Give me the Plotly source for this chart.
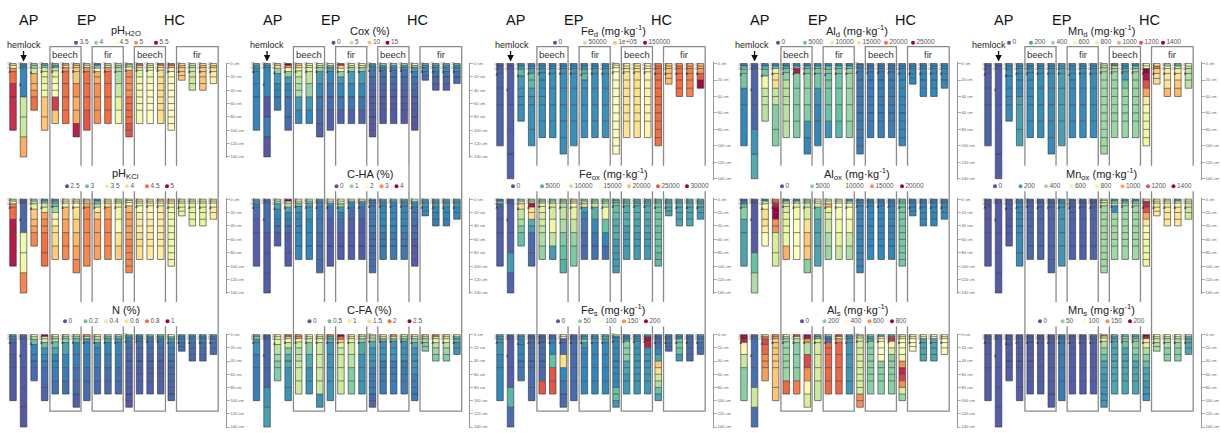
import plotly.graph_objects as go
import plotly.colors as pc

W, H = 1221, 433
FONT = "Liberation Sans, Arial, Helvetica, sans-serif"

# ---------------- data ----------------
site_names = ["AP", "EP", "HC"]
stand_names = ["beech", "fir", "beech", "fir"]
stand_first = [4, 8, 12, 16]
stand_last = [6, 10, 14, 19]
hemlock_profile = 1
top_horizon_names = ["Ol", "Of", "A"]

# horizon boundaries (cm) of the 20 soil profiles
hz_depths = [
    [0, 3, 7, 12, 30, 50, 100],
    [0, 3, 6, 50, 80, 110, 140],
    [0, 3, 7, 15, 30, 40, 50, 70],
    [0, 3, 6, 12, 20, 30, 40, 50, 80, 100],
    [0, 3, 6, 11, 20, 30, 40, 50, 70, 90],
    [0, 3, 6, 12, 30, 50, 70, 90],
    [0, 3, 6, 12, 30, 50, 70, 90, 110],
    [0, 3, 6, 12, 30, 50, 70, 100],
    [0, 3, 7, 12, 20, 30, 50, 70, 90],
    [0, 3, 6, 12, 30, 50, 70, 90],
    [0, 3, 6, 12, 30, 50, 70, 90],
    [0, 2, 5, 10, 20, 30, 40, 50, 60, 70, 80, 90, 100, 110],
    [0, 3, 6, 10, 20, 30, 40, 50, 60, 70, 90],
    [0, 3, 6, 10, 20, 30, 40, 50, 60, 70, 90],
    [0, 3, 6, 10, 20, 30, 40, 50, 60, 70, 90],
    [0, 3, 6, 12, 20, 30, 40, 50, 60, 70, 80, 90, 100],
    [0, 3, 6, 12, 18, 25],
    [0, 3, 6, 12, 20, 30, 40],
    [0, 3, 6, 12, 20, 30, 40],
    [0, 3, 6, 12, 20, 30],
]

ph_h2o_ticks = [3.5, 4, 4.5, 5, 5.5]
ph_h2o_labels = ["3.5", "4", "4.5", "5", "5.5"]
ph_h2o = [
    [4.8, 4.5, 5.0, 5.1, 5.35, 5.35],
    [3.7, 3.7, 3.7, 4.2, 4.2, 4.9],
    [4.0, 4.1, 4.2, 4.9, 4.9, 5.0, 5.1],
    [3.8, 4.0, 4.2, 4.3, 4.3, 4.4, 4.4, 4.8, 4.8],
    [3.9, 3.8, 4.2, 4.3, 4.4, 4.5, 4.5, 5.3, 4.8],
    [5.0, 4.5, 5.0, 5.1, 5.1, 5.1, 5.1],
    [4.9, 4.7, 4.8, 4.8, 5.0, 4.9, 4.9, 5.4],
    [4.1, 4.5, 5.0, 5.1, 5.1, 5.1, 5.2],
    [3.6, 4.0, 4.5, 4.9, 4.9, 5.0, 5.0, 5.0],
    [4.1, 4.3, 5.0, 5.1, 5.1, 5.1, 5.1],
    [4.2, 4.1, 4.1, 4.1, 4.2, 4.3, 4.4],
    [4.1, 4.2, 4.3, 5.0, 5.0, 5.0, 5.0, 5.1, 5.1, 5.1, 5.1, 5.2, 5.2],
    [5.2, 4.2, 4.3, 4.3, 4.4, 4.4, 4.4, 4.4, 4.4, 4.4],
    [4.2, 4.3, 4.4, 4.4, 4.4, 4.5, 4.5, 4.5, 4.5, 4.5],
    [5.2, 4.3, 4.6, 4.7, 4.7, 4.7, 4.7, 4.7, 4.7, 4.7],
    [5.2, 4.9, 4.6, 4.5, 4.5, 4.5, 4.5, 4.5, 4.5, 4.5, 4.5, 4.5],
    [4.7, 4.8, 4.8, 4.8, 4.8],
    [4.2, 4.2, 4.2, 4.2, 4.2, 4.2],
    [4.7, 4.8, 4.8, 4.8, 4.8, 4.8],
    [4.6, 4.8, 4.7, 4.6, 4.6],
]

ph_kcl_ticks = [2.5, 3, 3.5, 4, 4.5, 5]
ph_kcl_labels = ["2.5", "3", "3.5", "4", "4.5", "5"]
ph_kcl = [
    [3.3, 3.6, 4.4, 4.5, 4.9, 4.9],
    [2.6, 2.6, 2.6, 3.6, 3.6, 4.4],
    [3.2, 3.3, 3.5, 4.1, 4.2, 4.3, 4.4],
    [2.8, 3.1, 3.4, 3.5, 4.3, 4.4, 4.4, 4.5, 4.5],
    [2.8, 3.0, 3.0, 3.2, 3.6, 3.6, 4.0, 4.0, 4.1],
    [3.9, 3.5, 3.9, 4.2, 4.3, 4.4, 4.4],
    [3.9, 3.5, 3.8, 4.0, 4.1, 4.2, 4.3, 4.4],
    [3.3, 3.6, 4.3, 4.4, 4.4, 4.4, 4.4],
    [2.7, 3.0, 3.3, 3.9, 4.1, 4.3, 4.3, 4.3],
    [3.4, 3.5, 4.1, 4.3, 4.4, 4.4, 4.4],
    [3.3, 3.4, 3.5, 3.6, 3.7, 4.0, 4.1],
    [3.5, 3.6, 3.8, 4.2, 4.3, 4.3, 4.3, 4.3, 4.4, 4.4, 4.4, 4.4, 4.4],
    [4.0, 3.5, 3.6, 3.8, 3.9, 3.9, 3.9, 4.0, 4.0, 4.0],
    [3.9, 3.5, 3.6, 3.8, 3.8, 3.9, 3.9, 3.9, 3.9, 3.9],
    [4.2, 3.6, 3.8, 3.9, 3.9, 3.9, 3.9, 3.9, 3.9, 3.9],
    [4.1, 3.7, 3.6, 3.6, 3.6, 3.6, 3.6, 3.6, 3.6, 3.6, 3.6, 3.6],
    [3.5, 3.5, 3.5, 3.5, 3.5],
    [3.4, 3.5, 3.5, 3.5, 3.5, 3.5],
    [3.5, 3.5, 3.5, 3.5, 3.5, 3.5],
    [4.0, 3.6, 3.8, 3.9, 3.9],
]

n_ticks = [0, 0.2, 0.4, 0.6, 0.8, 1]
n_labels = ["0", "0.2", "0.4", "0.6", "0.8", "1"]
n_pct = [
    [0.12, 0.1, 0.05, 0.03, 0.02, 0.02],
    [0.08, 0.05, 0.03, 0.02, 0.02, 0.02],
    [0.45, 0.35, 0.2, 0.1, 0.08, 0.06, 0.05],
    [1.0, 0.5, 0.35, 0.2, 0.12, 0.1, 0.08, 0.05, 0.04],
    [0.5, 0.35, 0.3, 0.2, 0.15, 0.1, 0.1, 0.08, 0.06],
    [0.35, 0.3, 0.25, 0.15, 0.1, 0.08, 0.06],
    [0.35, 0.3, 0.2, 0.1, 0.08, 0.06, 0.05, 0.03],
    [0.75, 0.6, 0.12, 0.1, 0.08, 0.06, 0.05],
    [0.55, 0.35, 0.25, 0.12, 0.1, 0.08, 0.06, 0.05],
    [0.28, 0.22, 0.15, 0.1, 0.08, 0.06, 0.05],
    [0.3, 0.25, 0.12, 0.1, 0.08, 0.06, 0.05],
    [0.25, 0.15, 0.1, 0.06, 0.05, 0.04, 0.04, 0.03, 0.03, 0.03, 0.03, 0.02, 0.02],
    [0.12, 0.1, 0.08, 0.06, 0.05, 0.04, 0.04, 0.03, 0.03, 0.03],
    [0.2, 0.12, 0.1, 0.06, 0.05, 0.04, 0.04, 0.03, 0.03, 0.03],
    [0.18, 0.12, 0.1, 0.06, 0.05, 0.04, 0.04, 0.03, 0.03, 0.03],
    [0.5, 0.2, 0.12, 0.1, 0.08, 0.06, 0.05, 0.05, 0.04, 0.04, 0.04, 0.04],
    [0.12, 0.1, 0.08, 0.06, 0.05],
    [0.12, 0.1, 0.08, 0.06, 0.05, 0.04],
    [0.12, 0.1, 0.08, 0.06, 0.05, 0.04],
    [0.12, 0.1, 0.08, 0.06, 0.05],
]

cox_ticks = [0, 5, 10, 15]
cox_labels = ["0", "5", "10", "15"]
cox = [
    [2.5, 2.0, 1.6, 1.5, 1.5, 1.4],
    [2.0, 1.8, 1.5, 0.3, 1.2, 0.3],
    [10, 6.5, 4, 2, 1.5, 1.5, 1.2],
    [15, 11, 6.5, 4, 2, 1.5, 1.5, 1.0, 0.8],
    [10, 6.5, 6, 5.5, 5, 4.5, 4.5, 2, 1.5],
    [6.5, 6.5, 6, 5, 4, 2, 1.5],
    [6.5, 5, 4, 2, 1.5, 1, 0.8, 0.5],
    [8, 3, 2, 1.5, 1, 0.8, 0.5],
    [14, 9, 8, 4, 2, 1.5, 1, 0.5],
    [6.5, 5, 4, 2, 1.5, 1, 0.5],
    [8, 6, 4, 2, 1.5, 1, 0.5],
    [3, 2, 1.5, 1, 0.8, 0.6, 0.5, 0.4, 0.3, 0.3, 0.3, 0.2, 0.2],
    [4, 2, 1.5, 1, 0.8, 0.6, 0.5, 0.4, 0.3, 0.3],
    [4, 2, 1.5, 1, 0.8, 0.6, 0.5, 0.4, 0.3, 0.3],
    [4, 2, 1.5, 1, 0.8, 0.6, 0.5, 0.4, 0.3, 0.3],
    [8, 4, 2, 1.5, 1, 0.8, 0.6, 0.5, 0.4, 0.3, 0.3, 0.2],
    [2.5, 2, 1.5, 1, 0.8],
    [2.5, 2, 1.5, 1, 0.8, 0.5],
    [2.5, 2, 1.5, 1, 0.8, 0.5],
    [2.5, 2, 1.5, 1, 0.8],
]

cha_ticks = [0, 1, 2, 3, 4]
cha_labels = ["0", "1", "2", "3", "4"]
c_ha = [
    [0.6, 0.5, 0.3, 0.2, 0.1, 0.1],
    [0.3, 0.2, 0.2, 0.1, 0.1, 0.1],
    [1.5, 1.0, 0.6, 0.4, 0.3, 0.2, 0.1],
    [4, 2.2, 1.2, 0.6, 0.4, 0.3, 0.2, 0.1, 0.1],
    [2, 1.5, 0.8, 0.5, 0.4, 0.4, 0.4, 0.4, 0.4],
    [1.4, 1.0, 0.6, 0.5, 0.4, 0.4, 0.4],
    [0.6, 0.4, 0.4, 0.3, 0.3, 0.2, 0.2, 0.2],
    [2, 1.4, 0.4, 0.2, 0.1, 0.1, 0.1],
    [2, 1.4, 1.0, 0.5, 0.3, 0.2, 0.1, 0.1],
    [1.5, 0.6, 0.4, 0.2, 0.1, 0.1, 0.1],
    [1.6, 0.6, 0.4, 0.2, 0.1, 0.1, 0.1],
    [0.5, 0.4, 0.3, 0.3, 0.3, 0.3, 0.3, 0.2, 0.2, 0.2, 0.2, 0.2, 0.2],
    [0.6, 0.5, 0.4, 0.4, 0.4, 0.4, 0.4, 0.3, 0.3, 0.3],
    [0.8, 0.5, 0.4, 0.4, 0.4, 0.4, 0.4, 0.3, 0.3, 0.3],
    [0.6, 0.5, 0.4, 0.4, 0.4, 0.4, 0.4, 0.3, 0.3, 0.3],
    [2, 0.6, 0.4, 0.3, 0.3, 0.2, 0.2, 0.2, 0.1, 0.1, 0.1, 0.1],
    [0.6, 0.5, 0.5, 0.4, 0.4],
    [0.6, 0.5, 0.5, 0.4, 0.4, 0.3],
    [0.6, 0.5, 0.5, 0.4, 0.4, 0.3],
    [0.6, 0.5, 0.5, 0.4, 0.4],
]

cfa_ticks = [0, 0.5, 1, 1.5, 2, 2.5]
cfa_labels = ["0", "0.5", "1", "1.5", "2", "2.5"]
c_fa = [
    [0.4, 0.6, 0.3, 0.3, 0.2, 0.2],
    [0.1, 0.1, 0.1, 0.1, 0.3, 0.35],
    [1.3, 1.1, 1.0, 0.8, 0.7, 0.6, 0.6],
    [2.1, 1.4, 1.1, 0.9, 0.6, 0.4, 0.4, 0.3, 0.3],
    [1.9, 1.8, 1.1, 0.9, 0.8, 0.8, 0.9, 0.9, 0.9],
    [1.2, 1.1, 0.9, 0.6, 0.4, 0.3, 0.3],
    [1.1, 1.0, 1.0, 0.9, 0.9, 0.9, 0.9, 0.3],
    [2.0, 0.5, 0.4, 0.3, 0.3, 0.3, 0.3],
    [2.5, 2.0, 1.6, 1.0, 0.9, 0.9, 0.9, 0.9],
    [1.1, 1.0, 1.0, 0.9, 0.8, 0.6, 0.6],
    [1.6, 1.1, 0.6, 0.4, 0.3, 0.3, 0.3],
    [1.4, 1.1, 0.7, 0.4, 0.3, 0.3, 0.3, 0.2, 0.2, 0.2, 0.2, 0.1, 0.1],
    [1.1, 1.4, 0.5, 0.3, 0.3, 0.3, 0.2, 0.2, 0.2, 0.2],
    [1.9, 1.1, 0.5, 0.3, 0.3, 0.3, 0.2, 0.2, 0.2, 0.2],
    [1.0, 0.9, 0.5, 0.3, 0.3, 0.3, 0.2, 0.2, 0.2, 0.2],
    [1.4, 1.1, 0.6, 0.4, 0.3, 0.3, 0.3, 0.3, 0.2, 0.2, 0.2, 0.2],
    [1.6, 0.9, 0.7, 0.6, 0.6],
    [2.0, 1.4, 1.0, 0.8, 0.7, 0.6],
    [1.5, 1.1, 1.0, 0.8, 0.7, 0.6],
    [1.0, 0.5, 0.4, 0.3, 0.3],
]

fed_ticks = [0, 50000, 100000, 150000]
fed_labels = ["0", "50000", "1e+05", "150000"]
fe_d = [
    [5000, 5000, 6000, 6000, 6000, 6000],
    [4000, 4000, 4000, 5000, 5000, 5000],
    [15000, 20000, 28000, 20000, 18000, 17000, 17000],
    [15000, 18000, 20000, 30000, 28000, 20000, 18000, 17000, 17000],
    [15000, 17000, 17000, 17000, 17000, 17000, 17000, 17000, 17000],
    [15000, 17000, 17000, 17000, 17000, 17000, 17000],
    [15000, 17000, 17000, 17000, 17000, 17000, 17000, 17000],
    [15000, 17000, 17000, 17000, 17000, 17000, 17000],
    [15000, 17000, 25000, 28000, 18000, 17000, 17000, 17000],
    [15000, 17000, 17000, 17000, 17000, 17000, 17000],
    [15000, 17000, 17000, 17000, 17000, 17000, 17000],
    [70000, 72000, 75000, 75000, 75000, 75000, 75000, 75000, 75000, 75000, 75000, 75000, 75000],
    [80000, 85000, 88000, 88000, 88000, 88000, 88000, 88000, 88000, 88000],
    [85000, 88000, 90000, 90000, 90000, 90000, 90000, 90000, 90000, 90000],
    [75000, 78000, 80000, 80000, 80000, 80000, 80000, 80000, 80000, 80000],
    [115000, 120000, 120000, 120000, 120000, 120000, 120000, 120000, 120000, 120000, 120000, 120000],
    [95000, 100000, 100000, 100000, 100000],
    [110000, 118000, 120000, 120000, 120000, 120000],
    [105000, 110000, 115000, 115000, 115000, 115000],
    [100000, 105000, 110000, 125000, 148000],
]

feox_ticks = [0, 5000, 10000, 15000, 20000, 25000, 30000]
feox_labels = ["0", "5000", "10000", "15000", "20000", "25000", "30000"]
fe_ox = [
    [2000, 6000, 1500, 1000, 1000, 1000],
    [1000, 1000, 1000, 1000, 4000, 1000],
    [8000, 10000, 18000, 10000, 9000, 7000, 6000],
    [8000, 10000, 29000, 18000, 18000, 5000, 4000, 1500, 1500],
    [7000, 9000, 12000, 12000, 11000, 11000, 10000, 9000, 8000],
    [7000, 10000, 11000, 11000, 13000, 10000, 4000],
    [7000, 9000, 10000, 10000, 9000, 7000, 6000, 5000],
    [10000, 18000, 14000, 12000, 10000, 8000, 7000],
    [7000, 9000, 18000, 4000, 3000, 2000, 1500, 1500],
    [7000, 9000, 10000, 5000, 3000, 2000, 2000],
    [7000, 9000, 10000, 13000, 6000, 3000, 1500],
    [6000, 6000, 6000, 6000, 6000, 5000, 5000, 5000, 4000, 4000, 4000, 4000, 4000],
    [6000, 6000, 6000, 5000, 5000, 5000, 4000, 4000, 4000, 4000],
    [5000, 5000, 5000, 5000, 5000, 4500, 4500, 4000, 4000, 4000],
    [5000, 5000, 5000, 5000, 5000, 4500, 4500, 4000, 4000, 4000],
    [6000, 6500, 6500, 6500, 6500, 6500, 6000, 6000, 6000, 6000, 5500, 5500],
    [5000, 5000, 5000, 4500, 4500],
    [5000, 5000, 5000, 4500, 4500, 4500],
    [5000, 5000, 5000, 4500, 4500, 4500],
    [5000, 5000, 4500, 4000, 4000],
]

fes_ticks = [0, 50, 100, 150, 200]
fes_labels = ["0", "50", "100", "150", "200"]
fe_s = [
    [30, 25, 25, 25, 20, 20],
    [5, 5, 5, 5, 35, 10],
    [25, 25, 20, 20, 20, 15, 15],
    [10, 10, 10, 10, 10, 10, 10, 10, 10],
    [10, 10, 10, 10, 10, 10, 10, 10, 170],
    [10, 15, 20, 20, 40, 170, 170],
    [110, 100, 10, 10, 120, 20, 15, 10],
    [10, 10, 10, 10, 10, 10, 10],
    [25, 25, 45, 25, 20, 20, 20, 20],
    [25, 25, 25, 20, 20, 20, 20],
    [30, 40, 25, 20, 20, 20, 20],
    [100, 25, 20, 20, 20, 20, 20, 20, 20, 20, 40, 40, 25],
    [20, 20, 25, 50, 50, 50, 30, 30, 25, 25],
    [20, 25, 25, 25, 25, 25, 25, 25, 25, 25],
    [25, 195, 195, 190, 25, 25, 25, 25, 25, 25],
    [10, 10, 10, 10, 20, 30, 130, 120, 70, 60, 40, 30],
    [15, 15, 15, 10, 10],
    [20, 20, 40, 45, 40, 25],
    [15, 15, 10, 10, 10, 10],
    [25, 20, 15, 10, 10],
]

ald_ticks = [0, 5000, 10000, 15000, 20000, 25000]
ald_labels = ["0", "5000", "10000", "15000", "20000", "25000"]
al_d = [
    [2000, 5000, 5500, 5500, 2500, 2500],
    [1000, 1000, 1000, 1000, 3000, 4000],
    [2500, 4500, 5500, 11000, 8500, 8500, 8000],
    [2500, 5000, 11000, 15000, 15000, 8500, 8500, 6000, 6000],
    [2500, 4000, 5500, 6500, 8000, 8000, 8000, 8000, 8000],
    [2500, 5000, 24000, 6000, 6000, 6000, 6000],
    [2500, 5000, 5500, 6500, 6500, 6000, 3000, 2500],
    [2500, 5000, 5500, 5500, 3000, 2500, 2500],
    [2500, 5500, 5500, 5500, 5500, 5500, 5000, 3000],
    [2500, 5500, 5500, 5500, 5500, 5000, 4500],
    [2500, 5500, 6500, 7000, 7000, 7000, 6500],
    [2000, 2000, 2000, 2000, 2000, 2000, 2000, 2000, 2000, 2000, 2000, 2000, 2000],
    [2000, 2000, 2000, 2000, 2000, 2000, 2000, 2000, 2000, 2000],
    [2000, 2000, 2000, 2000, 2000, 2000, 2000, 2000, 2000, 2000],
    [2000, 2000, 2000, 2000, 2000, 2000, 2000, 2000, 2000, 2000],
    [2500, 2500, 2500, 2500, 2500, 2500, 2500, 2500, 2500, 2500, 2500, 2500],
    [2500, 2500, 2500, 2500, 2500],
    [2500, 2500, 2500, 2500, 2500, 2500],
    [2500, 2500, 2500, 2500, 2500, 2500],
    [2500, 2500, 2500, 2500, 2500],
]

alox_ticks = [0, 5000, 10000, 15000, 20000]
alox_labels = ["0", "5000", "10000", "15000", "20000"]
al_ox = [
    [500, 1500, 4000, 5000, 3000, 3000],
    [500, 500, 500, 500, 4000, 6000],
    [2000, 7000, 10000, 12000, 12000, 11000, 10000],
    [15000, 16000, 19000, 20000, 20000, 15000, 15000, 7500, 7500],
    [2000, 7000, 7500, 7500, 8000, 8000, 8500, 8500, 14000],
    [2000, 7000, 8000, 9000, 10000, 10000, 10000],
    [5000, 6000, 7000, 7500, 12000, 13000, 13000, 5000],
    [9500, 10000, 7500, 4000, 3000, 3000, 3000],
    [7000, 8000, 14000, 8000, 7500, 7000, 6000, 5500],
    [7000, 9000, 10000, 9500, 9000, 8000, 7000],
    [2000, 7000, 9000, 10000, 9000, 7000, 6000],
    [2000, 2000, 2000, 2000, 2000, 2000, 2000, 2000, 2000, 2000, 2000, 2000, 2000],
    [2000, 2000, 2000, 2000, 2000, 2000, 2000, 2000, 2000, 2000],
    [2000, 2000, 2000, 2000, 2000, 2000, 2000, 2000, 2000, 2000],
    [2000, 2000, 2000, 2000, 2000, 2000, 2000, 2000, 2000, 2000],
    [4500, 4500, 4500, 4500, 4500, 4500, 4500, 4500, 4500, 4500, 4500, 4500],
    [2000, 2000, 2000, 2000, 2000],
    [2000, 2000, 2000, 2000, 2000, 2000],
    [2000, 2000, 2000, 2000, 2000, 2000],
    [2000, 2000, 2000, 2000, 2000],
]

als_ticks = [0, 200, 400, 600, 800]
als_labels = ["0", "200", "400", "600", "800"]
al_s = [
    [780, 780, 760, 420, 280, 200],
    [50, 50, 50, 50, 280, 50],
    [300, 650, 700, 650, 600, 600, 580],
    [600, 550, 520, 520, 520, 520, 520, 520, 520],
    [380, 250, 220, 220, 220, 220, 220, 220, 650],
    [700, 400, 250, 200, 200, 200, 620],
    [780, 780, 600, 250, 700, 600, 420, 300],
    [120, 150, 300, 300, 300, 300, 280],
    [200, 50, 50, 650, 650, 650, 650, 650],
    [720, 400, 600, 650, 650, 650, 650],
    [100, 100, 100, 100, 100, 100, 100],
    [300, 350, 300, 300, 300, 300, 300, 300, 300, 300, 300, 600, 600],
    [200, 120, 120, 200, 200, 200, 200, 200, 200, 200],
    [120, 400, 400, 400, 400, 400, 200, 200, 200, 200],
    [120, 700, 720, 420, 300, 200, 200, 200, 200, 200],
    [300, 350, 380, 400, 380, 360, 600, 750, 720, 600, 300, 220],
    [420, 400, 400, 400, 400],
    [400, 380, 120, 120, 120, 120],
    [400, 380, 120, 120, 120, 120],
    [400, 420, 400, 400, 400],
]

mn_ticks = [0, 200, 400, 600, 800, 1000, 1200, 1400]
mn_labels = ["0", "200", "400", "600", "800", "1000", "1200", "1400"]
mn_d = [
    [60, 50, 50, 50, 50, 50],
    [40, 40, 40, 40, 40, 40],
    [150, 150, 150, 150, 150, 150, 150],
    [150, 150, 150, 150, 150, 150, 200, 200, 200],
    [150, 150, 150, 150, 150, 150, 150, 150, 150],
    [150, 150, 150, 150, 150, 150, 150],
    [150, 150, 150, 150, 150, 150, 150, 150],
    [200, 200, 200, 200, 200, 200, 200],
    [150, 150, 150, 150, 150, 150, 150, 150],
    [150, 150, 150, 150, 150, 150, 150],
    [150, 150, 150, 150, 150, 150, 150],
    [600, 450, 400, 400, 400, 400, 400, 400, 400, 400, 400, 400, 400],
    [150, 900, 380, 380, 380, 380, 380, 380, 380, 380],
    [150, 150, 200, 200, 300, 380, 380, 380, 380, 380],
    [150, 300, 380, 380, 380, 380, 380, 380, 380, 380],
    [600, 700, 1400, 1350, 1200, 1000, 800, 650, 600, 600, 600, 600],
    [800, 1100, 900, 850, 850],
    [400, 700, 800, 800, 800, 950],
    [250, 500, 800, 800, 900, 950],
    [650, 500, 450, 450, 450],
]

mn_ox = [
    [30, 30, 30, 30, 30, 30],
    [30, 30, 30, 30, 30, 30],
    [40, 40, 40, 40, 40, 40, 40],
    [150, 150, 150, 150, 150, 150, 150, 150, 150],
    [60, 60, 60, 60, 60, 60, 60, 60, 60],
    [60, 60, 60, 60, 60, 60, 60],
    [60, 60, 60, 60, 60, 60, 60, 60],
    [180, 180, 180, 180, 180, 180, 180],
    [50, 50, 50, 50, 50, 50, 50, 50],
    [50, 50, 50, 50, 50, 50, 50],
    [50, 50, 50, 50, 50, 50, 50],
    [800, 600, 450, 400, 400, 400, 400, 400, 400, 400, 400, 400, 400],
    [150, 400, 400, 150, 400, 400, 400, 400, 400, 400],
    [150, 300, 400, 400, 400, 400, 400, 400, 400, 400],
    [150, 400, 400, 400, 400, 400, 400, 400, 400, 400],
    [600, 1300, 1300, 1200, 1000, 800, 700, 650, 600, 600, 600, 600],
    [750, 800, 800, 800, 800],
    [450, 700, 800, 800, 800, 800],
    [200, 600, 750, 800, 800, 800],
    [600, 550, 500, 500, 500],
]

mns_ticks = [0, 50, 100, 150, 200]
mns_labels = ["0", "50", "100", "150", "200"]
mn_s = [
    [5, 5, 5, 5, 5, 5],
    [5, 5, 5, 5, 5, 5],
    [5, 5, 5, 5, 5, 5, 5],
    [5, 5, 5, 5, 5, 5, 5, 5, 5],
    [5, 5, 5, 5, 5, 5, 5, 5, 5],
    [5, 5, 5, 5, 5, 5, 5],
    [5, 5, 5, 5, 5, 5, 5, 5],
    [15, 15, 15, 15, 15, 15, 15],
    [5, 5, 5, 5, 5, 5, 5, 5],
    [5, 5, 5, 5, 5, 5, 5],
    [20, 10, 5, 5, 5, 5, 5],
    [150, 120, 80, 60, 50, 40, 30, 30, 25, 25, 25, 25, 25],
    [40, 30, 30, 30, 30, 30, 30, 30, 30, 30],
    [40, 60, 50, 40, 30, 30, 30, 30, 30, 30],
    [30, 40, 50, 50, 50, 40, 30, 30, 30, 30],
    [200, 190, 110, 80, 60, 50, 40, 30, 30, 25, 25, 25],
    [100, 80, 70, 60, 60],
    [100, 70, 60, 60, 50, 50],
    [100, 80, 60, 55, 50, 50],
    [70, 40, 30, 30, 30],
]

# panel (column) x rows: title, legend ticks, legend labels, values
panels = [
    [("pH<sub>H2O</sub>", ph_h2o_ticks, ph_h2o_labels, ph_h2o),
     ("pH<sub>KCl</sub>", ph_kcl_ticks, ph_kcl_labels, ph_kcl),
     ("N (%)", n_ticks, n_labels, n_pct)],
    [("Cox (%)", cox_ticks, cox_labels, cox),
     ("C-HA (%)", cha_ticks, cha_labels, c_ha),
     ("C-FA (%)", cfa_ticks, cfa_labels, c_fa)],
    [("Fe<sub>d</sub> (mg·kg<sup>-1</sup>)", fed_ticks, fed_labels, fe_d),
     ("Fe<sub>ox</sub> (mg·kg<sup>-1</sup>)", feox_ticks, feox_labels, fe_ox),
     ("Fe<sub>s</sub> (mg·kg<sup>-1</sup>)", fes_ticks, fes_labels, fe_s)],
    [("Al<sub>d</sub> (mg·kg<sup>-1</sup>)", ald_ticks, ald_labels, al_d),
     ("Al<sub>ox</sub> (mg·kg<sup>-1</sup>)", alox_ticks, alox_labels, al_ox),
     ("Al<sub>s</sub> (mg·kg<sup>-1</sup>)", als_ticks, als_labels, al_s)],
    [("Mn<sub>d</sub> (mg·kg<sup>-1</sup>)", mn_ticks, mn_labels, mn_d),
     ("Mn<sub>ox</sub> (mg·kg<sup>-1</sup>)", mn_ticks, mn_labels, mn_ox),
     ("Mn<sub>s</sub> (mg·kg<sup>-1</sup>)", mns_ticks, mns_labels, mn_s)],
]

# ---------------- layout constants (pixels) ----------------
panel_off = [0, 243.5, 487, 731, 975]
PW = 226.0
X0, X1 = -1.232, 20.19
BAR_HALF = 0.31
row_top = [62, 198.5, 335]
row_bot = [[156, 156, 178, 178, 178], [293] * 5, [428] * 5]
title_y = [29.5, 173, 310]
legend_y = [41, 185.5, 321.5]
leg_start = [[76, 67, 65], [90, 93, 66], [68, 26, 71], [47, 51, 71], [34, 20, 65]]
leg_step = [[20, 20, 20.5], [18, 15, 20], [30, 29, 22], [27, 30, 22.5], [22, 25.5, 22.5]]
site_label_idx = [1.5, 7.0, 15.3]
hemlock_text_idx = [1.0, 1.0, 1.1, 0.75, 0.1]
BOX_TOP, BOX_BOT = 45, 412

cs = [[i / 10, c] for i, c in enumerate(pc.diverging.Spectral[::-1])]


def px_of(p, idx):
    return panel_off[p] + (idx - X0) / (X1 - X0) * PW


fig = go.Figure()
lay = {}
shapes = []
annotations = []
leg_x, leg_yv, leg_c, leg_t = [], [], [], []

k = 0
for p in range(5):
    for r in range(3):
        k += 1
        xid = "x" if k == 1 else f"x{k}"
        yid = "y" if k == 1 else f"y{k}"
        title, ticks, tlabels, vals = panels[p][r]
        lo, hi = ticks[0], ticks[-1]
        xs, bases, thick, cols = [], [], [], []
        lx, ly = [], []
        nx, ny, nt = [], [], []
        for i, (dep, v) in enumerate(zip(hz_depths, vals)):
            assert len(dep) - 1 == len(v), (title, i, len(dep), len(v))
            for j in range(len(v)):
                xs.append(i)
                bases.append(dep[j])
                thick.append(dep[j + 1] - dep[j])
                cols.append(v[j])
            # horizon boundary lines and profile outline
            for d in dep:
                lx += [i - BAR_HALF, i + BAR_HALF, None]
                ly += [d, d, None]
            lx += [i - BAR_HALF, i - BAR_HALF, None, i + BAR_HALF, i + BAR_HALF, None]
            ly += [dep[0], dep[-1], None, dep[0], dep[-1], None]
            for j, nm in enumerate(top_horizon_names):
                nx.append(i - 0.2)
                ny.append((dep[j] + dep[j + 1]) / 2 + 2 * j)
                nt.append(nm)
        fig.add_trace(go.Bar(
            x=xs, y=thick, base=bases, width=2 * BAR_HALF,
            marker=dict(color=cols, colorscale=cs, cmin=lo, cmax=hi, line=dict(width=0)),
            xaxis=xid, yaxis=yid, hoverinfo="skip", showlegend=False))
        fig.add_trace(go.Scatter(
            x=lx, y=ly, mode="lines", line=dict(color="#333333", width=0.6),
            xaxis=xid, yaxis=yid, hoverinfo="skip", showlegend=False, cliponaxis=False))
        fig.add_trace(go.Scatter(
            x=nx, y=ny, text=nt, mode="text", textposition="middle left",
            textfont=dict(size=3.5, color="#333", family=FONT),
            xaxis=xid, yaxis=yid, hoverinfo="skip", showlegend=False, cliponaxis=False))
        top = row_top[r]
        bot = row_bot[r][p]
        s = (bot - top) / 140.0
        lay["xaxis" if k == 1 else f"xaxis{k}"] = dict(
            domain=[panel_off[p] / W, (panel_off[p] + PW) / W], range=[X0, X1],
            visible=False, anchor=yid, fixedrange=True)
        lay["yaxis" if k == 1 else f"yaxis{k}"] = dict(
            domain=[1 - (bot + 1.5 * s) / H, 1 - (top - 1.5 * s) / H], range=[141.5, -1.5],
            anchor="free", position=(panel_off[p] + PW) / W, side="right",
            showline=True, linecolor="#7a7a7a", linewidth=0.8,
            ticks="outside", ticklen=3, tickwidth=0.6, tickcolor="#7a7a7a",
            tickvals=[0, 20, 40, 60, 80, 100, 120, 140],
            ticktext=["0 cm", "20 cm", "40 cm", "60 cm", "80 cm", "100 cm", "120 cm", "140 cm"],
            tickfont=dict(size=4, color="#4d6b4d", family=FONT),
            showgrid=False, zeroline=False, fixedrange=True)

        # title
        annotations.append(dict(x=(panel_off[p] + 126) / W, y=1 - title_y[r] / H,
                                xref="paper", yref="paper", text=title, showarrow=False,
                                font=dict(size=11, color="#222", family=FONT),
                                xanchor="center", yanchor="middle"))
        # legend
        samp = pc.sample_colorscale(cs, [(t - lo) / (hi - lo) for t in ticks])
        x_last = 0
        for n, (t, lab, c) in enumerate(zip(ticks, tlabels, samp)):
            xx = panel_off[p] + leg_start[p][r] + n * leg_step[p][r]
            leg_x.append(xx)
            leg_yv.append(legend_y[r])
            leg_c.append(c)
            leg_t.append(lab)
            x_last = xx + 4 + len(lab) * 3.7
        if r > 0:
            shapes.append(dict(type="rect", xref="paper", yref="paper",
                               x0=(panel_off[p] + leg_start[p][r] - 6) / W, x1=(x_last + 4) / W,
                               y0=1 - (legend_y[r] + 5) / H, y1=1 - (title_y[r] - 8) / H,
                               fillcolor="white", line=dict(width=0), layer="below"))

# stand boxes (drawn first so white legend patches sit above them)
box_shapes = []
for p in range(5):
    for nm, a, b in zip(stand_names, stand_first, stand_last):
        x0 = px_of(p, a - 0.5)
        x1 = px_of(p, b + 0.45)
        box_shapes.append(dict(type="rect", xref="paper", yref="paper",
                               x0=x0 / W, x1=x1 / W, y0=1 - BOX_BOT / H, y1=1 - BOX_TOP / H,
                               line=dict(color="#8a8a8a", width=1.3),
                               fillcolor="rgba(0,0,0,0)", layer="below"))
        annotations.append(dict(x=(x0 + x1) / 2 / W, y=1 - 53 / H, xref="paper", yref="paper",
                                text=nm, showarrow=False,
                                font=dict(size=9.5, color="#333", family=FONT),
                                xanchor="center", yanchor="middle"))
    for nm, idx in zip(site_names, site_label_idx):
        annotations.append(dict(x=px_of(p, idx) / W, y=1 - 18 / H, xref="paper", yref="paper",
                                text=nm, showarrow=False,
                                font=dict(size=14.5, color="#111", family=FONT),
                                xanchor="center", yanchor="middle"))
    annotations.append(dict(x=px_of(p, hemlock_text_idx[p]) / W, y=1 - 43 / H,
                            xref="paper", yref="paper", text="hemlock", showarrow=False,
                            font=dict(size=9, color="#222", family=FONT),
                            xanchor="center", yanchor="middle"))
    annotations.append(dict(x=px_of(p, hemlock_profile) / W, y=1 - 60 / H,
                            xref="paper", yref="paper", text="", showarrow=True,
                            ax=0, ay=-12, arrowhead=2, arrowsize=1, arrowwidth=1.3,
                            arrowcolor="#111"))

# legend markers on a full-figure canvas axis
fig.add_trace(go.Scatter(
    x=leg_x, y=leg_yv, mode="markers+text", text=leg_t, textposition="middle right",
    marker=dict(size=4, color=leg_c, line=dict(width=0)),
    textfont=dict(size=6.5, color="#555", family=FONT),
    xaxis="x16", yaxis="y16", hoverinfo="skip", showlegend=False, cliponaxis=False))
lay["xaxis16"] = dict(domain=[0, 1], range=[0, W], visible=False, anchor="y16", fixedrange=True)
lay["yaxis16"] = dict(domain=[0, 1], range=[H, 0], visible=False, anchor="x16", fixedrange=True)

fig.update_layout(
    width=W, height=H, margin=dict(l=0, r=0, t=0, b=0),
    paper_bgcolor="white", plot_bgcolor="rgba(0,0,0,0)",
    barmode="overlay", showlegend=False,
    font=dict(family=FONT),
    shapes=box_shapes + shapes, annotations=annotations,
    **lay)

fig.write_html("out.html", config={"displayModeBar": False, "staticPlot": True},
               post_script="document.body.style.margin='0px';document.body.style.overflow='hidden';")
